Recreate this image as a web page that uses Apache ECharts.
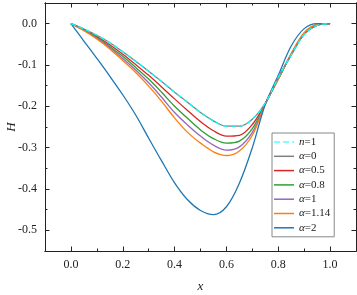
<!DOCTYPE html>
<html><head><meta charset="utf-8">
<script src="https://cdn.jsdelivr.net/npm/echarts@6/dist/echarts.min.js"></script>
<style>html,body{margin:0;padding:0;background:#fff}#c{width:357px;height:295px}</style>
</head><body><div id="c"></div>
<script>
var xs = [0,0.05,0.1,0.15,0.2,0.25,0.3,0.35,0.4,0.45,0.5,0.55,0.6,0.65,0.7,0.75,0.8,0.85,0.9,0.95,1.0];
var yN1   = [0,-0.013,-0.028,-0.046,-0.068,-0.091,-0.115,-0.140,-0.166,-0.190,-0.215,-0.235,-0.248,-0.248,-0.231,-0.192,-0.130,-0.076,-0.026,-0.004,0];
var yA0   = [0,-0.013,-0.028,-0.046,-0.068,-0.091,-0.115,-0.140,-0.166,-0.190,-0.215,-0.235,-0.248,-0.248,-0.231,-0.192,-0.130,-0.076,-0.026,-0.004,0];
var yA05  = [0,-0.014,-0.031,-0.051,-0.074,-0.099,-0.125,-0.153,-0.182,-0.210,-0.237,-0.259,-0.272,-0.270,-0.244,-0.193,-0.134,-0.075,-0.025,-0.004,0];
var yA08  = [0,-0.015,-0.033,-0.055,-0.079,-0.106,-0.134,-0.166,-0.200,-0.229,-0.257,-0.278,-0.289,-0.284,-0.254,-0.193,-0.134,-0.074,-0.024,-0.003,0];
var yA1   = [0,-0.016,-0.035,-0.058,-0.084,-0.112,-0.143,-0.178,-0.215,-0.245,-0.272,-0.294,-0.306,-0.298,-0.263,-0.194,-0.134,-0.073,-0.023,-0.003,0];
var yA114 = [0,-0.017,-0.037,-0.061,-0.089,-0.118,-0.151,-0.188,-0.228,-0.263,-0.289,-0.310,-0.319,-0.308,-0.270,-0.195,-0.134,-0.073,-0.022,-0.002,0];
var yA2   = [0,-0.042,-0.084,-0.127,-0.172,-0.221,-0.277,-0.332,-0.385,-0.426,-0.452,-0.462,-0.443,-0.386,-0.300,-0.195,-0.125,-0.054,-0.012,0,0];
var names = ['n=1','α=0','α=0.5','α=0.8','α=1','α=1.14','α=2'];
var xMajor = [0,0.2,0.4,0.6,0.8,1.0];
var xMinor = [0.1,0.3,0.5,0.7,0.9];
var yMajor = [-0.5,-0.4,-0.3,-0.2,-0.1,0];
var yMinor = [-0.45,-0.35,-0.25,-0.15,-0.05];

var colors = ['#00ffff','#7f7f7f','#d62728','#2ca02c','#9467bd','#ff7f0e','#1f77b4'];
var ysAll = [yN1,yA0,yA05,yA08,yA1,yA114,yA2];
function pts(ys){return xs.map(function(x,i){return [x,ys[i]];});}

var font = 'Liberation Serif';
var axColor = '#222';
function xAx(pos, ticks, len, labels){
  return {type:'value', position:pos, offset:0, min:-0.1, max:1.1, interval:0.1,
    axisLine:{show:true,onZero:false,lineStyle:{color:axColor,width:1}},
    axisTick:{show:true,inside:true,length:len,customValues:ticks,lineStyle:{color:axColor,width:1}},
    axisLabel:labels?{show:true,customValues:xMajor,margin:8,color:'#222',fontFamily:font,fontSize:12,formatter:function(v){return v.toFixed(1);}}:{show:false},
    splitLine:{show:false},
    name: labels?'x':'', nameLocation:'middle', nameGap:29, nameMoveOverlap:false,
    nameTextStyle:{fontFamily:font,fontStyle:'italic',fontSize:13,color:'#222'}
  };
}
function yAx(pos, ticks, len, labels){
  return {type:'value', position:pos, offset:0, min:-0.55, max:0.05, interval:0.05,
    axisLine:{show:true,onZero:false,lineStyle:{color:axColor,width:1}},
    axisTick:{show:true,inside:true,length:len,customValues:ticks,lineStyle:{color:axColor,width:1}},
    axisLabel:labels?{show:true,customValues:yMajor,margin:8,color:'#222',fontFamily:font,fontSize:12,formatter:function(v){return v.toFixed(1);}}:{show:false},
    splitLine:{show:false},
    name: labels?'H':'', nameLocation:'middle', nameGap:27, nameRotate:90, nameMoveOverlap:false,
    nameTextStyle:{fontFamily:font,fontStyle:'italic',fontSize:13,color:'#222'}
  };
}

var series = names.map(function(n,i){
  return {name:n, type:'line', data:pts(ysAll[i]), smooth:0.35, symbol:'none',
    xAxisIndex:0, yAxisIndex:0,
    z: i===0?5:(i===1?3:2),
    lineStyle:{color:colors[i], width:1.3, type: i===0?[5,3]:'solid'},
    itemStyle:{color:colors[i]}};
});

var dashIcon = 'path://M0,0h6v1h-6z M9,0h6v1h-6z M18,0h2v1h-2z';
var legendData = names.map(function(n,i){
  return {name:n, icon: i===0?dashIcon:'rect', itemStyle:{color:colors[i]}};
});

var chart = echarts.init(document.getElementById('c'), null, {renderer:'canvas'});
chart.setOption({
  animation:false,
  backgroundColor:'#fff',
  grid:{left:45,right:1,top:3,bottom:44,containLabel:false,outerBoundsMode:'none'},
  xAxis:[xAx('bottom',xMajor,4.5,true), xAx('bottom',xMinor,2.5,false), xAx('top',xMajor,4.5,false), xAx('top',xMinor,2.5,false)],
  yAxis:[yAx('left',yMajor,4.5,true), yAx('left',yMinor,2.5,false), yAx('right',yMajor,4.5,false), yAx('right',yMinor,2.5,false)],
  legend:{
    data:legendData, orient:'vertical', left:272, top:133,
    backgroundColor:'#fff', borderColor:'#888', borderWidth:1, borderRadius:0,
    padding:[3,4,3,2], itemWidth:20, itemHeight:1.5, itemGap:2.3,
    textStyle:{fontFamily:font,fontSize:11,color:'#222',lineHeight:12,
      rich:{i:{fontFamily:font,fontStyle:'italic',fontSize:11,color:'#222',lineHeight:12},
            r:{fontFamily:font,fontSize:11,color:'#222',lineHeight:12}}},
    formatter:function(n){var p=n.split('=');return '{i|'+p[0]+'}{r|='+p[1]+'}';},
    selectedMode:false
  },
  series:series
});
</script></body></html>
